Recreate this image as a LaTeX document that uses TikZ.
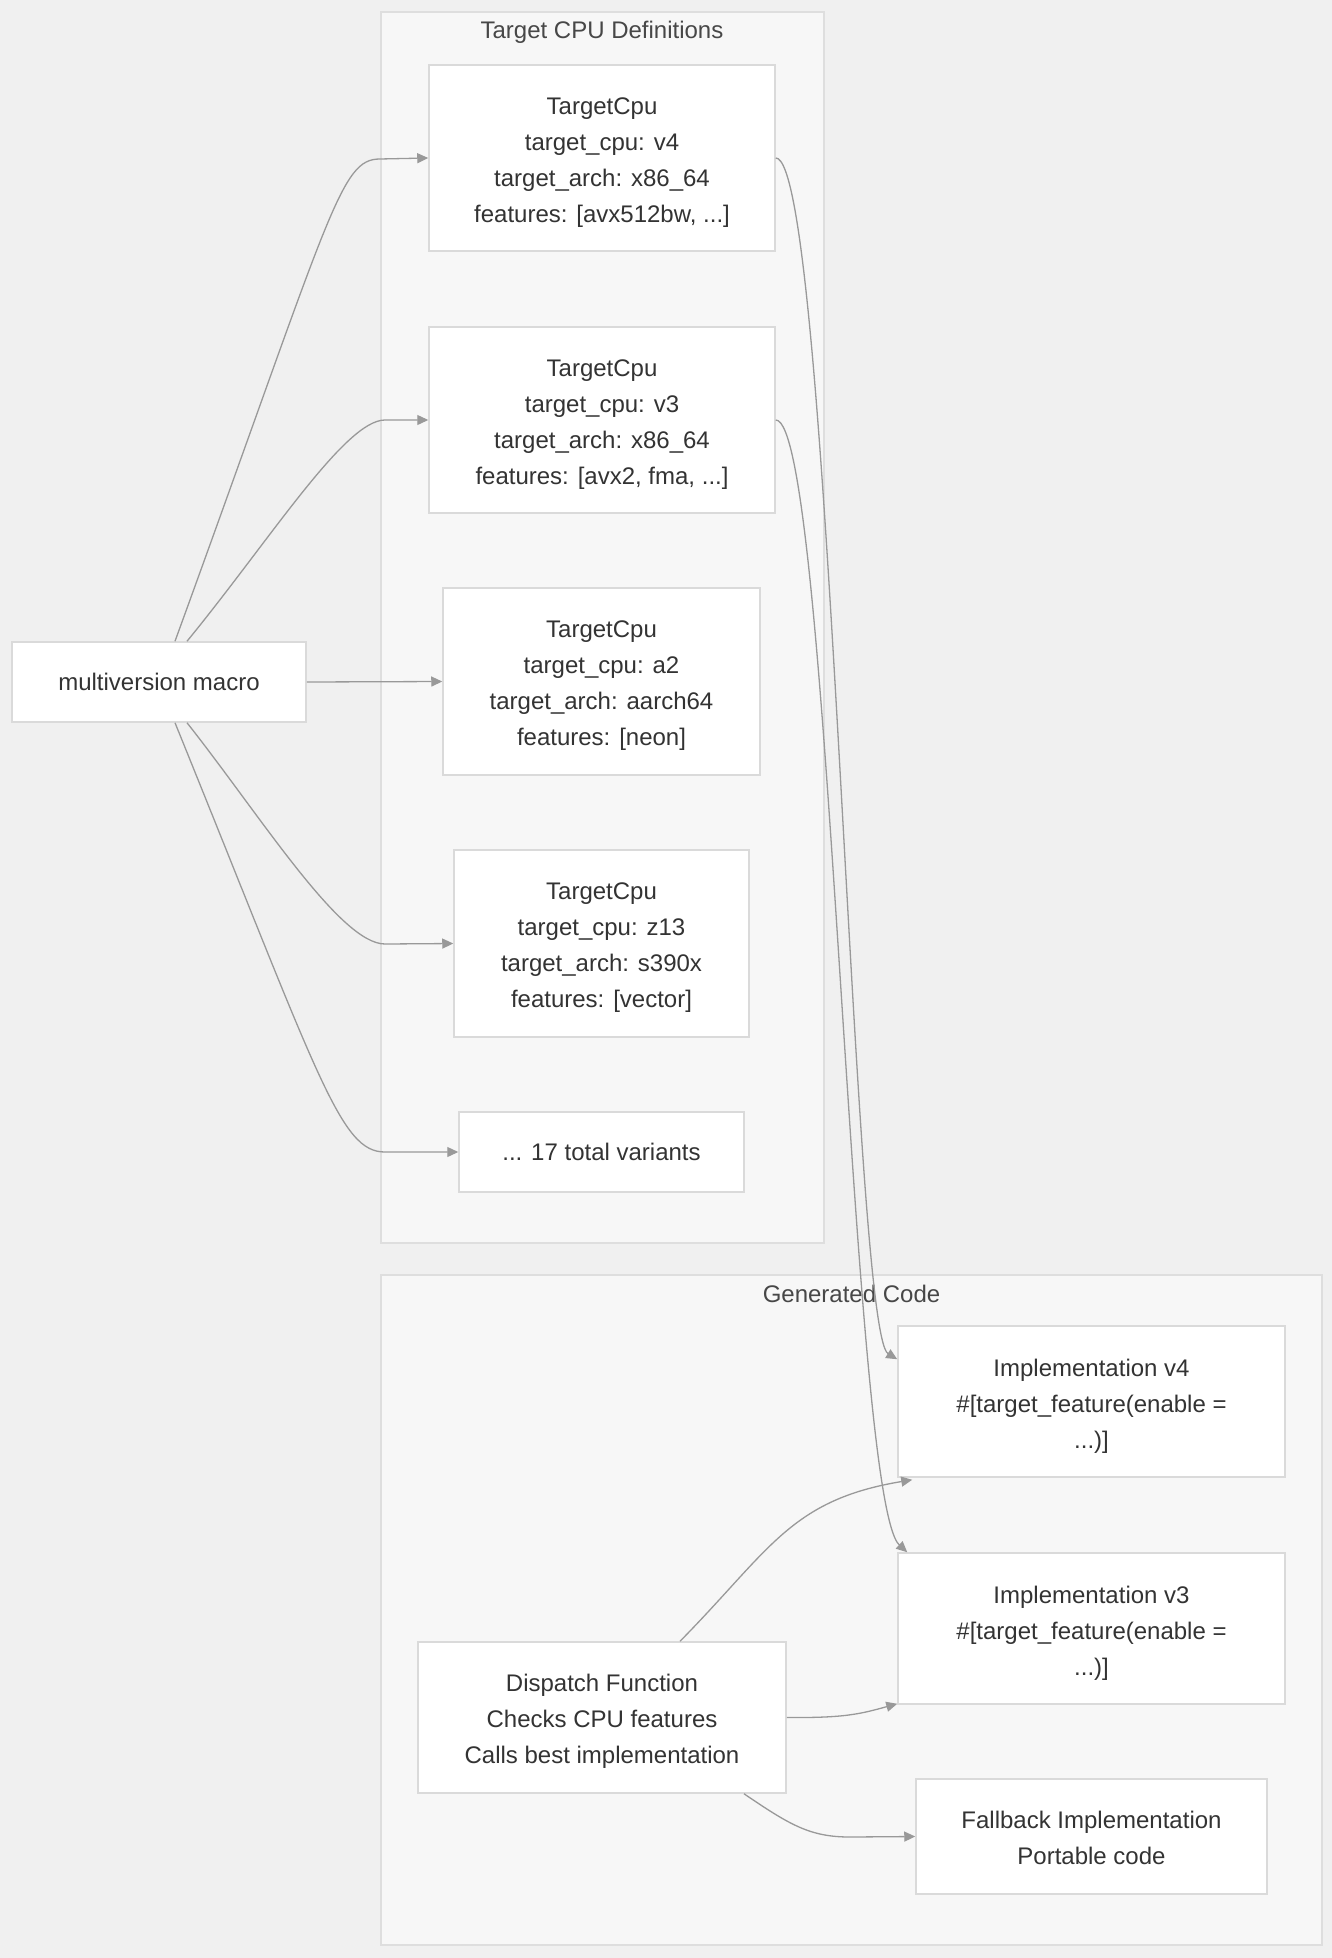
\documentclass[tikz,border=0pt]{standalone}
\usepackage{fontspec}
\setmainfont{Liberation Sans}
\usetikzlibrary{arrows.meta,calc}
\definecolor{bgc}{HTML}{F0F0F0}
\definecolor{clusterfill}{HTML}{F7F7F7}
\definecolor{clusterline}{HTML}{DEDEDE}
\definecolor{nodeline}{HTML}{DADADA}
\definecolor{edgec}{HTML}{999999}
\definecolor{txt}{HTML}{333333}
% taller first line: pushes a multi-line label slightly down in its box
\newcommand\tallline[1]{\rule{0pt}{#1}}
\begin{document}
\begin{tikzpicture}[x=0.5pt,y=-0.5pt,
  box/.style={draw=nodeline, fill=white, line width=0.75pt, align=center,
    text=txt, font=\fontsize{12pt}{18pt}\selectfont, inner sep=0pt},
  cluster/.style={draw=clusterline, fill=clusterfill, line width=0.75pt},
  ctitle/.style={text=txt!90, font=\fontsize{12pt}{18pt}\selectfont, inner sep=0pt},
  edge/.style={draw=edgec, line width=0.65pt,
    -{Triangle[length=5.5pt,width=5pt]}}]

% canvas
\fill[bgc] (0,0) rectangle (1332,1958);
\useasboundingbox (0,0) rectangle (1332,1958);

% groups
\draw[cluster] (381,12) rectangle (824,1243);
\node[ctitle] (deftitle) at (602,32.5) {Target CPU Definitions};
\draw[cluster] (381,1275) rectangle (1322,1945);
\node[ctitle] (gentitle) at (851.5,1293.5) {Generated Code};

% nodes
\node[box, minimum width=147pt, minimum height=40pt] (macro) at (159,682) {multiversion macro};

\node[box, minimum width=173pt, minimum height=93pt] (cpu4) at (602,158)
  {\tallline{12.6pt}TargetCpu\\target\_cpu: v4\\target\_arch: x86\_64\\features: [avx512bw, ...]};
\node[box, minimum width=173pt, minimum height=93pt] (cpu3) at (602,420)
  {\tallline{12.6pt}TargetCpu\\target\_cpu: v3\\target\_arch: x86\_64\\features: [avx2, fma, ...]};
\node[box, minimum width=158.5pt, minimum height=93.5pt] (cpua2) at (601.5,681.5)
  {\tallline{12.6pt}TargetCpu\\target\_cpu: a2\\target\_arch: aarch64\\features: [neon]};
\node[box, minimum width=147.5pt, minimum height=93.5pt] (cpuz) at (601.5,943.5)
  {\tallline{12.6pt}TargetCpu\\target\_cpu: z13\\target\_arch: s390x\\features: [vector]};
\node[box, minimum width=142.5pt, minimum height=40pt] (more) at (601.5,1152)
  {... 17 total variants};

\node[box, minimum width=193.5pt, minimum height=75.5pt] (impl4) at (1091.5,1401.5)
  {\tallline{13.5pt}Implementation v4\\\#[target\_feature(enable =\\...)]};
\node[box, minimum width=193.5pt, minimum height=75.5pt] (impl3) at (1091.5,1628.5)
  {\tallline{13.5pt}Implementation v3\\\#[target\_feature(enable =\\...)]};
\node[box, minimum width=184pt, minimum height=75.5pt] (disp) at (602,1717.5)
  {\tallline{12.8pt}Dispatch Function\\Checks CPU features\\Calls best implementation};
\node[box, minimum width=175.5pt, minimum height=57.5pt] (fall) at (1091.5,1836.5)
  {\tallline{10pt}Fallback Implementation\\Portable code};

% macro to targets
\draw[edge] ($(macro.north)+(16,0)$) .. controls (332,210) and (340,159) .. (380,159) -- (cpu4.west);
\draw[edge] ($(macro.north)+(28,0)$) .. controls (270,540) and (345,420) .. (385,420) -- (cpu3.west);
\draw[edge] (macro.east) -- (cpua2.west);
\draw[edge] ($(macro.south)+(28,0)$) .. controls (260,815) and (340,944) .. (385,944) -- (cpuz.west);
\draw[edge] ($(macro.south)+(16,0)$) .. controls (320,1080) and (340,1152) .. (385,1152) -- (more.west);

% targets to implementations
\draw[edge] (cpu4.east) .. controls (830,158) and (852,1332) .. ($(impl4.north west)+(0,34)$);
\draw[edge] (cpu3.east) .. controls (830,420) and (850,1500) .. ($(impl3.north west)+(10,0)$);

% dispatch calls
\draw[edge] ($(disp.north)+(78,0)$) .. controls (770,1550) and (790,1500) .. ($(impl4.south west)+(15,2)$);
\draw[edge] (disp.east) .. controls (845,1718) and (860,1714) .. ($(impl3.south west)+(0,-1)$);
\draw[edge] ($(disp.south)+(142,0)$) .. controls (790,1825) and (810,1837) .. (850,1837) -- (fall.west);
\end{tikzpicture}
\end{document}
